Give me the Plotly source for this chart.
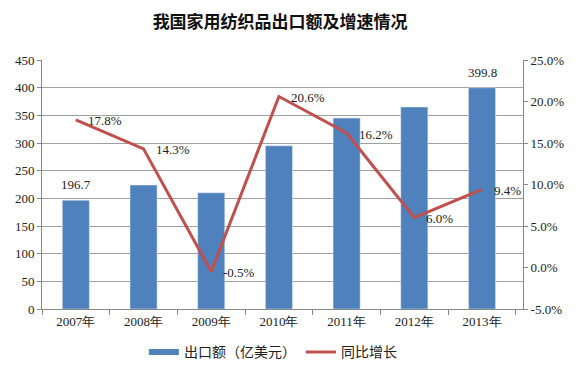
import plotly.graph_objects as go

years = ["2007年", "2008年", "2009年", "2010年", "2011年", "2012年", "2013年"]
export_value = [196.7, 224, 210, 295, 345, 365, 399.8]
growth_pct = [17.8, 14.3, -0.5, 20.6, 16.2, 6.0, 9.4]
bar_label_idx = [0, 6]
left_ticks = list(range(0, 451, 50))
right_ticks = [-5, 0, 5, 10, 15, 20, 25]
right_tick_text = [f"{v:.1f}%" for v in right_ticks]

BLUE = "#4F81BD"
RED = "#C0504D"
SERIF = "Liberation Serif, Times New Roman, serif"
CJK = "Noto Sans CJK SC"
TXT = "#222"

fig = go.Figure()
fig.add_trace(go.Bar(
    x=years, y=export_value, marker_color=BLUE, showlegend=False,
    name="出口额（亿美元）",
))
# legend proxy for bar series (wide flat swatch like the original)
fig.add_trace(go.Scatter(
    x=[None], y=[None], mode="lines", line=dict(color=BLUE, width=6),
    name="出口额（亿美元）", showlegend=True,
))
fig.add_trace(go.Scatter(
    x=years, y=growth_pct, yaxis="y2", mode="lines",
    line=dict(color=RED, width=3), name="同比增长",
))

annotations = []
for i in bar_label_idx:
    annotations.append(dict(x=years[i], y=export_value[i], xref="x", yref="y",
                            text=f"{export_value[i]:.1f}", showarrow=False,
                            yanchor="bottom", yshift=6,
                            font=dict(family=SERIF, size=13, color=TXT)))
for yr, g in zip(years, growth_pct):
    annotations.append(dict(x=yr, y=g, xref="x", yref="y2", text=f"{g:.1f}%",
                            showarrow=False, xanchor="left", yanchor="middle",
                            xshift=10, yshift=-1,
                            font=dict(family=SERIF, size=13, color=TXT)))

fig.update_layout(
    width=579, height=376,
    margin=dict(l=34, r=64, t=52, b=75, autoexpand=False),
    paper_bgcolor="white", plot_bgcolor="white",
    title=dict(text="<b>我国家用纺织品出口额及增速情况</b>", x=0.47, xanchor="center",
               y=0.962, yanchor="middle",
               font=dict(family=CJK, size=17, color="#111")),
    bargap=0.6,
    annotations=annotations,
    xaxis=dict(showline=True, linecolor="#888", ticks="outside", tickson="boundaries",
               ticklen=5, tickcolor="#888", showgrid=False,
               tickfont=dict(family=SERIF, size=13, color=TXT)),
    yaxis=dict(range=[0, 450], tickvals=left_ticks, showgrid=True, gridcolor="#A0A0A0",
               gridwidth=1, showline=True, linecolor="#888", ticks="outside",
               ticklen=4, tickcolor="#888", zeroline=False,
               tickfont=dict(family=SERIF, size=13, color=TXT)),
    yaxis2=dict(range=[-5, 25], tickvals=right_ticks, ticktext=right_tick_text,
                overlaying="y", side="right",
                showgrid=False, showline=True, linecolor="#888",
                ticks="outside", ticklen=4, tickcolor="#888", zeroline=False,
                tickfont=dict(family=SERIF, size=13, color=TXT)),
    legend=dict(orientation="h", x=0.48, xanchor="center", y=-0.11, yanchor="top",
                font=dict(family=CJK, size=14, color=TXT), itemwidth=30),
)

fig.write_html("out.html")
